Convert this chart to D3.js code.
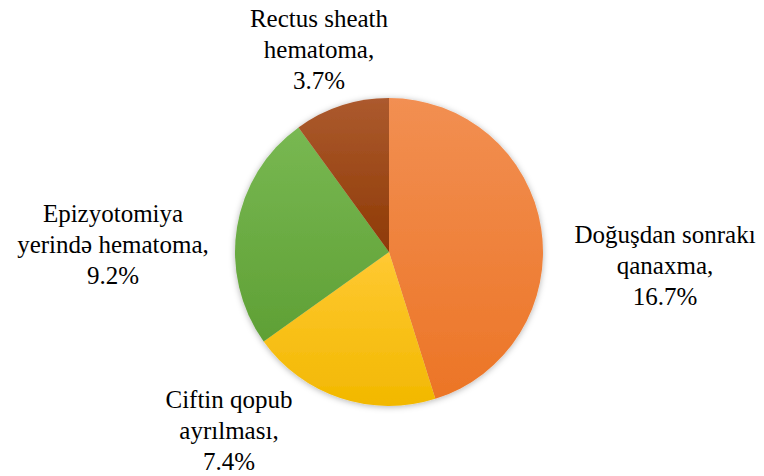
<!DOCTYPE html>
<html><head><meta charset="utf-8">
<script src="https://cdn.jsdelivr.net/npm/d3@7"></script>
</head><body style="margin:0">
<svg id="c" width="764" height="476"></svg>
<script>
const categories = ["Doğuşdan sonrakı qanaxma", "Ciftin qopub ayrılması", "Epizyotomiya yerində hematoma", "Rectus sheath hematoma"];
const values = [16.7, 7.4, 9.2, 3.7];
const labelLines = [["Doğuşdan sonrakı", "qanaxma,", "16.7%"], ["Ciftin qopub", "ayrılması,", "7.4%"], ["Epizyotomiya", "yerində hematoma,", "9.2%"], ["Rectus sheath", "hematoma,", "3.7%"]];
const colorsTop = ["#F28F52", "#FFC933", "#78B852", "#AC5A2E"];
const colorsBottom = ["#EC7526", "#F2B800", "#5FA035", "#8E3A05"];
// label anchor (centre x, first baseline y)
const labelPos = [[665, 243], [229, 408], [113, 222], [319, 27]];

const svg = d3.select("#c");
const defs = svg.append("defs");
const f = defs.append("filter").attr("id","sh").attr("x","-20%").attr("y","-20%").attr("width","140%").attr("height","140%");
f.append("feDropShadow").attr("dx",0).attr("dy",1).attr("stdDeviation",3).attr("flood-color","#000").attr("flood-opacity",0.3);
categories.forEach((c,i)=>{
  const g = defs.append("linearGradient").attr("id","g"+i).attr("x1",0).attr("y1",0).attr("x2",0).attr("y2",1);
  g.append("stop").attr("offset","0%").attr("stop-color",colorsTop[i]);
  g.append("stop").attr("offset","100%").attr("stop-color",colorsBottom[i]);
});
const cx = 389, cy = 252, r = 154;
const pie = d3.pie().sort(null).value(d=>d)(values);
const arc = d3.arc().innerRadius(0).outerRadius(r);
const g = svg.append("g").attr("transform",`translate(${cx},${cy})`).attr("filter","url(#sh)");
g.selectAll("path").data(pie).join("path").attr("d",arc).attr("fill",(d,i)=>`url(#g${i})`);
const lh = 31;
labelLines.forEach((lines,i)=>{
  lines.forEach((l,j)=>{
    const t = svg.append("text").attr("font-size",25).attr("font-family","Liberation Serif")
      .attr("x",labelPos[i][0]).attr("y",labelPos[i][1]+j*lh).text(l);
    const w = t.node().getComputedTextLength();
    t.attr("x",labelPos[i][0]-w/2);
  });
});
</script>
</body></html>
